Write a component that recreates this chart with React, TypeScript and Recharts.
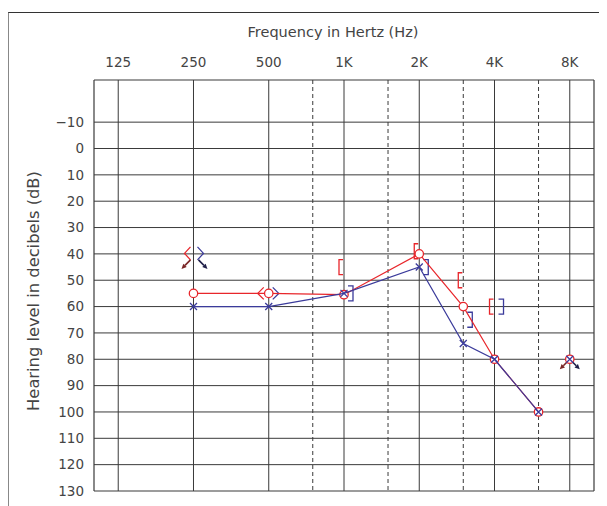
import React from 'react';
import { ScatterChart, Scatter, XAxis, YAxis, ReferenceLine } from 'recharts';

// frequency axis (log), octave ticks + half-octave dashed lines
const freqTicks = [125, 250, 500, 1000, 2000, 4000, 8000];
const freqLabels = ['125', '250', '500', '1K', '2K', '4K', '8K'];
const midFreqs = [750, 1500, 3000, 6000];
const dbTicks = [-10, 0, 10, 20, 30, 40, 50, 60, 70, 80, 90, 100, 110, 120, 130];

// air conduction
const rightAir = [
  { f: 250, db: 55 },
  { f: 500, db: 55 },
  { f: 1000, db: 55.5 },
  { f: 2000, db: 40 },
  { f: 3000, db: 60 },
  { f: 4000, db: 80 },
  { f: 6000, db: 100 },
];
const leftAir = [
  { f: 250, db: 60 },
  { f: 500, db: 60 },
  { f: 1000, db: 55 },
  { f: 2000, db: 45 },
  { f: 3000, db: 74 },
  { f: 4000, db: 80 },
  { f: 6000, db: 100 },
];
const rightAirNoResp = [{ f: 8000, db: 80 }];
const leftAirNoResp = [{ f: 8000, db: 80 }];

// bone conduction, unmasked
const rightBone = [{ f: 500, db: 55 }];
const leftBone = [{ f: 500, db: 55 }];
const rightBoneNoResp = [{ f: 250, db: 40 }];
const leftBoneNoResp = [{ f: 250, db: 40 }];

// bone conduction, masked
const rightBoneMasked = [
  { f: 1000, db: 45 },
  { f: 2000, db: 39 },
  { f: 3000, db: 50 },
  { f: 4000, db: 60 },
];
const leftBoneMasked = [
  { f: 1000, db: 55 },
  { f: 2000, db: 45 },
  { f: 3000, db: 65 },
  { f: 4000, db: 60 },
];

const RED = '#e8262b';
const BLUE = '#3b3b9b';
const RED_DARK = '#7a2626';
const BLUE_DARK = '#1e1e48';
const GRID = '#3a3a3a';
const TEXT = '#444';
const FONT = '"DejaVu Sans", sans-serif';

const Arrow = ({ x1, y1, x2, y2, color }: any) => {
  const a = Math.atan2(y2 - y1, x2 - x1);
  const len = 5;
  const w = 2.4;
  const bx = x2 - len * Math.cos(a);
  const by = y2 - len * Math.sin(a);
  const px = -Math.sin(a) * w;
  const py = Math.cos(a) * w;
  return (
    <g>
      <line x1={x1} y1={y1} x2={bx} y2={by} stroke={color} strokeWidth={1.6} />
      <path d={`M${x2},${y2}L${bx + px},${by + py}L${bx - px},${by - py}Z`} fill={color} />
    </g>
  );
};

const CircleMark = ({ cx, cy }: any) => (
  <circle cx={cx} cy={cy} r={4.2} fill="#fff" stroke={RED} strokeWidth={1.3} />
);

const CrossMark = ({ cx, cy }: any) => (
  <path
    d={`M${cx - 3.5},${cy - 3.5}L${cx + 3.5},${cy + 3.5}M${cx + 3.5},${cy - 3.5}L${cx - 3.5},${cy + 3.5}`}
    stroke={BLUE}
    strokeWidth={1.3}
    fill="none"
  />
);

const CircleNoResp = ({ cx, cy }: any) => (
  <g>
    <Arrow x1={cx - 3} y1={cy + 3} x2={cx - 10} y2={cy + 10} color={RED_DARK} />
    <CircleMark cx={cx} cy={cy} />
  </g>
);

const CrossNoResp = ({ cx, cy }: any) => (
  <g>
    <Arrow x1={cx + 3} y1={cy + 3} x2={cx + 10} y2={cy + 10} color={BLUE_DARK} />
    <CrossMark cx={cx} cy={cy} />
  </g>
);

const LessMark = ({ cx, cy }: any) => (
  <path
    d={`M${cx - 5},${cy - 6}L${cx - 11},${cy}L${cx - 5},${cy + 6}`}
    stroke={RED}
    strokeWidth={1.3}
    fill="none"
  />
);

const GreaterMark = ({ cx, cy }: any) => (
  <path
    d={`M${cx + 4},${cy - 6}L${cx + 10},${cy}L${cx + 4},${cy + 6}`}
    stroke={BLUE}
    strokeWidth={1.3}
    fill="none"
  />
);

const LessNoResp = ({ cx, cy }: any) => (
  <g>
    <path
      d={`M${cx - 3},${cy - 7}L${cx - 9},${cy - 0.5}L${cx - 3},${cy + 6}`}
      stroke={RED}
      strokeWidth={1.3}
      fill="none"
    />
    <Arrow x1={cx - 3} y1={cy + 6} x2={cx - 12} y2={cy + 15} color={RED_DARK} />
  </g>
);

const GreaterNoResp = ({ cx, cy }: any) => (
  <g>
    <path
      d={`M${cx + 4},${cy - 7}L${cx + 10},${cy - 0.5}L${cx + 4},${cy + 6}`}
      stroke={BLUE}
      strokeWidth={1.3}
      fill="none"
    />
    <Arrow x1={cx + 5} y1={cy + 6} x2={cx + 14} y2={cy + 15} color={BLUE_DARK} />
  </g>
);

const OpenBracket = ({ cx, cy }: any) => (
  <path
    d={`M${cx - 1},${cy - 7.5}L${cx - 5},${cy - 7.5}L${cx - 5},${cy + 7.5}L${cx - 1},${cy + 7.5}`}
    stroke={RED}
    strokeWidth={1.3}
    fill="none"
  />
);

const CloseBracket = ({ cx, cy }: any) => (
  <path
    d={`M${cx + 4},${cy - 7.5}L${cx + 9},${cy - 7.5}L${cx + 9},${cy + 7.5}L${cx + 4},${cy + 7.5}`}
    stroke={BLUE}
    strokeWidth={1.3}
    fill="none"
  />
);

const fmtFreq = (v: number) => freqLabels[freqTicks.indexOf(v)] ?? '';

export default function App() {
  return (
    <div style={{ position: 'relative', width: 599, height: 498, overflow: 'hidden', fontFamily: FONT }}>
      {/* outer frame, cut off on right and bottom */}
      <div
        style={{
          position: 'absolute',
          left: -1,
          top: 4,
          width: 700,
          height: 700,
          borderTop: '1.5px solid #333',
          borderLeft: '2px solid #888',
        }}
      />
      <div
        style={{
          position: 'absolute',
          left: 175,
          top: 13.5,
          width: 300,
          lineHeight: '20px',
          textAlign: 'center',
          fontSize: 14.5,
          color: TEXT,
        }}
      >
        Frequency in Hertz (Hz)
      </div>
      <div
        style={{
          position: 'absolute',
          left: 25.5,
          top: 283,
          transform: 'translate(-50%, -50%) rotate(-90deg)',
          whiteSpace: 'nowrap',
          fontSize: 16.3,
          lineHeight: '20px',
          color: TEXT,
        }}
      >
        Hearing level in decibels (dB)
      </div>
      <div style={{ position: 'absolute', left: 0, top: 0 }}>
        <ScatterChart width={599} height={498} margin={{ top: 42, right: 13, bottom: 15, left: 0 }}>
          <XAxis
            xAxisId={0}
            dataKey="f"
            type="number"
            scale="log"
            domain={[100, 10000]}
            allowDataOverflow
            orientation="top"
            height={30}
            ticks={freqTicks}
            tickFormatter={fmtFreq}
            axisLine={false}
            tickLine={false}
            tickSize={0}
            tickMargin={13}
            tick={{ fill: TEXT, fontSize: 13.5, fontFamily: FONT }}
          />
          <YAxis
            yAxisId={0}
            dataKey="db"
            type="number"
            reversed
            domain={[-26, 130]}
            allowDataOverflow
            width={86}
            ticks={dbTicks}
            interval={0}
            tickFormatter={(v: number) => (v < 0 ? `\u2212${-v}` : `${v}`)}
            axisLine={false}
            tickLine={false}
            tickSize={0}
            tickMargin={10}
            tick={{ fill: TEXT, fontSize: 13.5, fontFamily: FONT }}
          />

          {dbTicks.slice(0, -1).map((d) => (
            <ReferenceLine key={`h${d}`} y={d} stroke={GRID} strokeWidth={1} />
          ))}
          {freqTicks.map((f) => (
            <ReferenceLine key={`v${f}`} x={f} stroke={GRID} strokeWidth={1} />
          ))}
          {midFreqs.map((f) => (
            <ReferenceLine key={`m${f}`} x={f} stroke={GRID} strokeWidth={1} strokeDasharray="4 3" />
          ))}
          <ReferenceLine y={-26} stroke={GRID} strokeWidth={1.2} />
          <ReferenceLine y={130} stroke={GRID} strokeWidth={1.2} />
          <ReferenceLine x={100} stroke={GRID} strokeWidth={1.2} />
          <ReferenceLine x={10000} stroke={GRID} strokeWidth={1.2} />

          <Scatter data={rightBoneMasked} shape={OpenBracket} isAnimationActive={false} />
          <Scatter data={leftBoneMasked} shape={CloseBracket} isAnimationActive={false} />
          <Scatter data={rightBone} shape={LessMark} isAnimationActive={false} />
          <Scatter data={leftBone} shape={GreaterMark} isAnimationActive={false} />
          <Scatter data={rightBoneNoResp} shape={LessNoResp} isAnimationActive={false} />
          <Scatter data={leftBoneNoResp} shape={GreaterNoResp} isAnimationActive={false} />
          <Scatter
            data={rightAir}
            line={{ stroke: RED, strokeWidth: 1.2 }}
            shape={CircleMark}
            isAnimationActive={false}
          />
          <Scatter
            data={leftAir}
            line={{ stroke: BLUE, strokeWidth: 1.2 }}
            shape={CrossMark}
            isAnimationActive={false}
          />
          <Scatter data={rightAirNoResp} shape={CircleNoResp} isAnimationActive={false} />
          <Scatter data={leftAirNoResp} shape={CrossNoResp} isAnimationActive={false} />
        </ScatterChart>
      </div>
    </div>
  );
}
